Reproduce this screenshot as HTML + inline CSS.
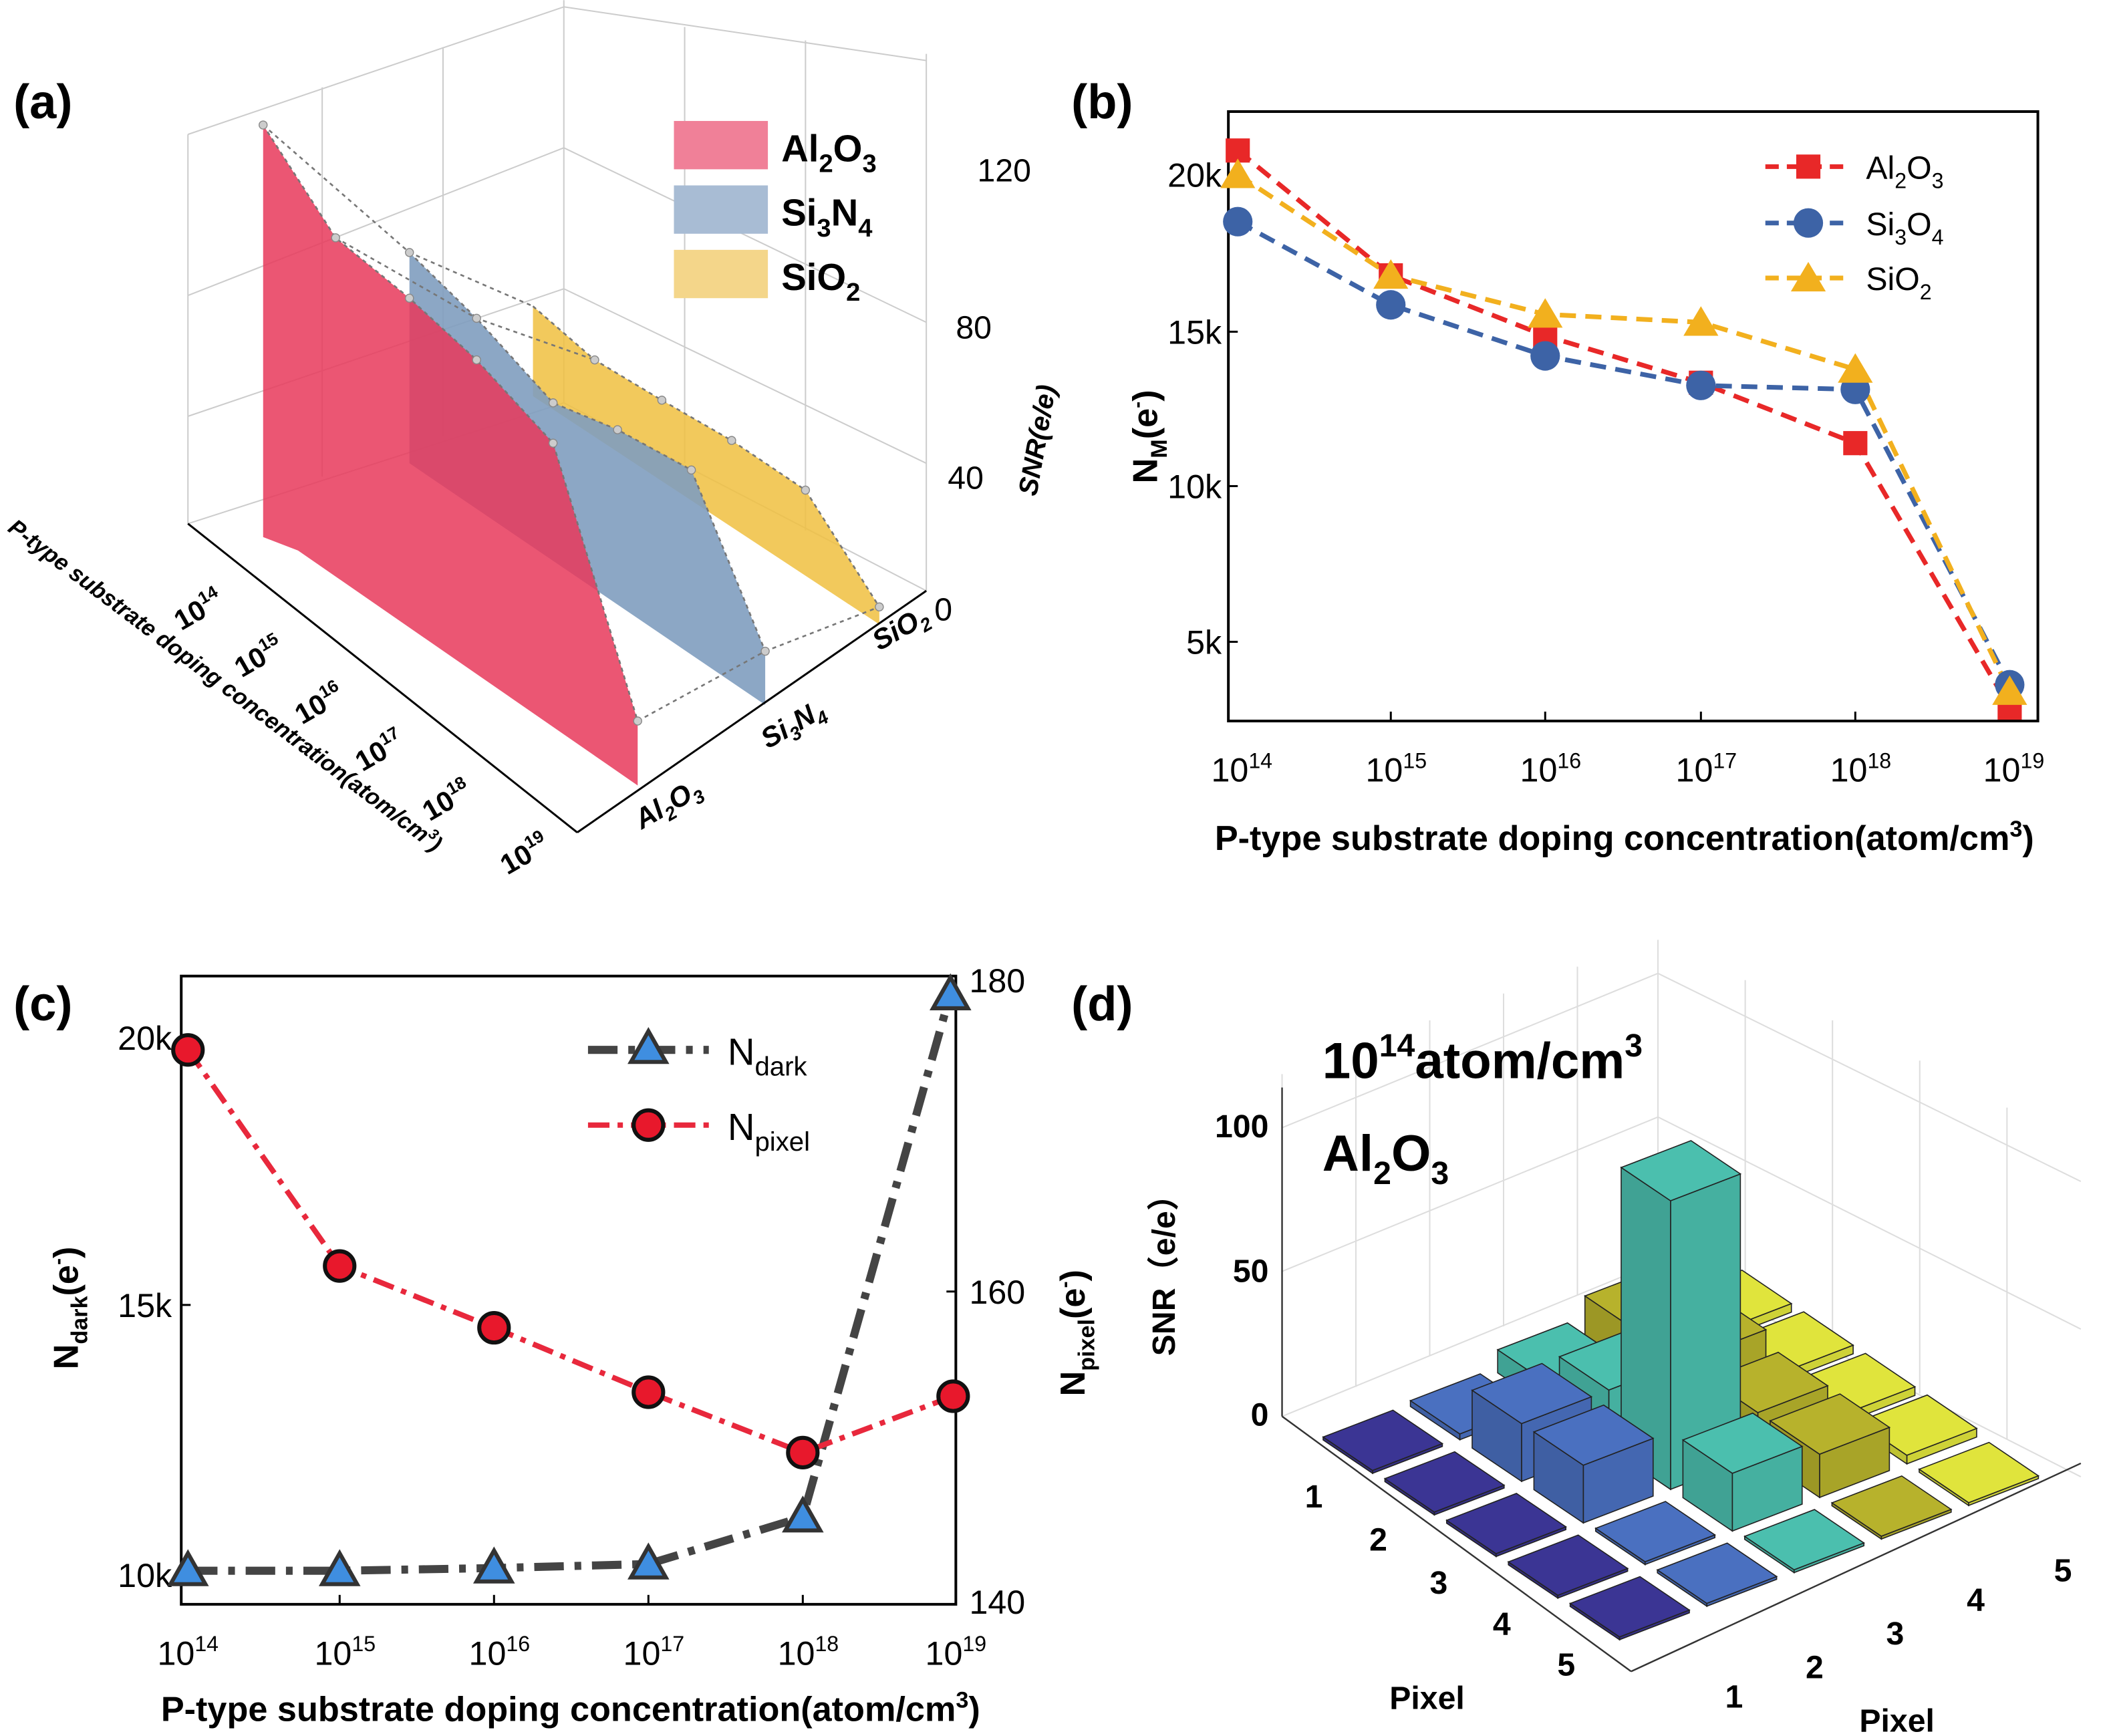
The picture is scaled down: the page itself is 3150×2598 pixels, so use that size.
<!DOCTYPE html>
<html><head><meta charset="utf-8">
<style>
html,body{margin:0;padding:0;background:#fff;}
svg{display:block;}
text{font-family:"Liberation Sans",sans-serif;}
.b{font-weight:bold;}
</style></head>
<body>
<svg id="s" width="3150" height="2598" viewBox="0 0 1568 1293" xmlns="http://www.w3.org/2000/svg">
<rect width="1568" height="1293" fill="#fff"/>

<!-- ===== Panel (a) ===== -->
<text x="10" y="88" class="b" font-size="36">(a)</text>
<g stroke="#ccc" stroke-width="1" fill="none">
  <line x1="140" y1="100" x2="140" y2="390"/>
  <line x1="420" y1="0" x2="420" y2="300"/>
  <line x1="690" y1="40" x2="690" y2="440"/>
  <line x1="140" y1="100" x2="420" y2="5"/>
  <line x1="420" y1="5" x2="690" y2="45"/>
  <line x1="140" y1="390" x2="420" y2="300"/>
  <line x1="420" y1="300" x2="690" y2="440"/>
  <line x1="140" y1="220" x2="420" y2="110"/><line x1="420" y1="110" x2="690" y2="240"/>
  <line x1="140" y1="310" x2="420" y2="215"/><line x1="420" y1="215" x2="690" y2="345"/>
  <line x1="240" y1="65" x2="240" y2="355"/><line x1="330" y1="35" x2="330" y2="325"/>
  <line x1="510" y1="20" x2="510" y2="345"/><line x1="600" y1="30" x2="600" y2="395"/>
</g>
<polygon points="397,228 443,268 493,298 545,328 600,365 655,452 655,465 397,295" fill="#f0c040" fill-opacity="0.85"/>
<polygon points="305,188 355,237 412,300 460,320 515,350 570,485 570,525 305,345" fill="#7f9dbf" fill-opacity="0.9"/>
<polygon points="196,93 250,177 305,222 355,268 412,330 475,537 475,585 222,410 196,400" fill="#e8385a" fill-opacity="0.85"/>
<g stroke="#777" stroke-width="1.3" stroke-dasharray="3,3" fill="none">
 <polyline points="196,93 250,177 305,222 355,268 412,330 475,537"/>
 <polyline points="305,188 355,237 412,300 460,320 515,350 570,485"/>
 <polyline points="397,228 443,268 493,298 545,328 600,365 655,452"/>
 <polyline points="196,93 305,188 397,228"/>
 <polyline points="250,177 355,237 443,268"/>
 <polyline points="475,537 570,485 655,452"/>
</g>
<g fill="#ccc" stroke="#888" stroke-width="0.7">
 <circle cx="196" cy="93" r="3"/><circle cx="250" cy="177" r="3"/><circle cx="305" cy="222" r="3"/><circle cx="355" cy="268" r="3"/><circle cx="412" cy="330" r="3"/><circle cx="475" cy="537" r="3"/>
 <circle cx="305" cy="188" r="3"/><circle cx="355" cy="237" r="3"/><circle cx="412" cy="300" r="3"/><circle cx="460" cy="320" r="3"/><circle cx="515" cy="350" r="3"/><circle cx="570" cy="485" r="3"/>
 <circle cx="443" cy="268" r="3"/><circle cx="493" cy="298" r="3"/><circle cx="545" cy="328" r="3"/><circle cx="600" cy="365" r="3"/><circle cx="655" cy="452" r="3"/>
</g>
<g stroke="#000" stroke-width="1.5" fill="none">
 <line x1="140" y1="390" x2="430" y2="620"/>
 <line x1="430" y1="620" x2="690" y2="440"/>
</g>
<rect x="502" y="90" width="70" height="36" fill="#f08098"/>
<rect x="502" y="138" width="70" height="36" fill="#a8bcd4"/>
<rect x="502" y="186" width="70" height="36" fill="#f4d68a"/>
<text x="582" y="120" class="b" font-size="28">Al<tspan font-size="19" dy="8">2</tspan><tspan dy="-8">O</tspan><tspan font-size="19" dy="8">3</tspan></text>
<text x="582" y="168" class="b" font-size="28">Si<tspan font-size="19" dy="8">3</tspan><tspan dy="-8">N</tspan><tspan font-size="19" dy="8">4</tspan></text>
<text x="582" y="216" class="b" font-size="28">SiO<tspan font-size="19" dy="8">2</tspan></text>
<g font-size="24">
 <text x="728" y="135">120</text><text x="712" y="252">80</text><text x="706" y="364">40</text><text x="696" y="462">0</text>
</g>
<text transform="translate(772,370) rotate(-80)" font-size="20" font-weight="bold" font-style="italic">SNR(e/e)</text>
<g font-size="21" font-weight="bold" font-style="italic">
 <text transform="translate(655,485) rotate(-30)">SiO<tspan font-size="14" dy="5">2</tspan></text>
 <text transform="translate(572,558) rotate(-30)">Si<tspan font-size="14" dy="5">3</tspan><tspan dy="-5">N</tspan><tspan font-size="14" dy="5">4</tspan></text>
 <text transform="translate(478,618) rotate(-30)">Al<tspan font-size="14" dy="5">2</tspan><tspan dy="-5">O</tspan><tspan font-size="14" dy="5">3</tspan></text>
</g>
<g font-size="21" font-weight="bold">
 <text transform="translate(135,470) rotate(-30)">10<tspan font-size="13" dy="-9">14</tspan></text>
 <text transform="translate(180,505) rotate(-30)">10<tspan font-size="13" dy="-9">15</tspan></text>
 <text transform="translate(225,540) rotate(-30)">10<tspan font-size="13" dy="-9">16</tspan></text>
 <text transform="translate(270,575) rotate(-30)">10<tspan font-size="13" dy="-9">17</tspan></text>
 <text transform="translate(320,612) rotate(-30)">10<tspan font-size="13" dy="-9">18</tspan></text>
 <text transform="translate(378,652) rotate(-30)">10<tspan font-size="13" dy="-9">19</tspan></text>
</g>
<text transform="translate(5,395) rotate(37)" font-size="17" font-weight="bold" font-style="italic">P-type substrate doping concentration(atom/cm<tspan font-size="11" dy="-7">3</tspan><tspan dy="7">)</tspan></text>

<!-- ===== Panel (b) ===== -->
<text x="798" y="88" class="b" font-size="36">(b)</text>
<rect x="915" y="83" width="603" height="454" fill="none" stroke="#000" stroke-width="2"/>
<g stroke="#000" stroke-width="1.5">
 <line x1="915" y1="130" x2="922" y2="130"/><line x1="915" y1="247" x2="922" y2="247"/><line x1="915" y1="362" x2="922" y2="362"/><line x1="915" y1="478" x2="922" y2="478"/>
 <line x1="1036" y1="537" x2="1036" y2="530"/><line x1="1151" y1="537" x2="1151" y2="530"/><line x1="1267" y1="537" x2="1267" y2="530"/><line x1="1382" y1="537" x2="1382" y2="530"/>
</g>
<g font-size="25" text-anchor="end">
 <text x="910" y="139">20k</text><text x="910" y="256">15k</text><text x="910" y="371">10k</text><text x="910" y="487">5k</text>
</g>
<g font-size="25" text-anchor="middle">
 <text x="925" y="582">10<tspan font-size="16" dy="-10">14</tspan></text>
 <text x="1040" y="582">10<tspan font-size="16" dy="-10">15</tspan></text>
 <text x="1155" y="582">10<tspan font-size="16" dy="-10">16</tspan></text>
 <text x="1271" y="582">10<tspan font-size="16" dy="-10">17</tspan></text>
 <text x="1386" y="582">10<tspan font-size="16" dy="-10">18</tspan></text>
 <text x="1500" y="582">10<tspan font-size="16" dy="-10">19</tspan></text>
</g>
<text x="1210" y="633" class="b" font-size="26" text-anchor="middle">P-type substrate doping concentration(atom/cm<tspan font-size="17" dy="-10">3</tspan><tspan dy="10">)</tspan></text>
<text transform="translate(862,360) rotate(-90)" class="b" font-size="26">N<tspan font-size="17" dy="7">M</tspan><tspan dy="-7">(e</tspan><tspan font-size="15" dy="-10">-</tspan><tspan dy="10">)</tspan></text>
<g fill="none" stroke-width="3.5" stroke-dasharray="12,7">
 <polyline stroke="#e82828" points="922,112 1036,205 1151,250 1267,285 1382,330 1497,527"/>
 <polyline stroke="#3d63a6" points="922,165 1036,227 1151,265 1267,287 1382,290 1497,510"/>
 <polyline stroke="#f2b01e" points="922,130 1036,205 1151,234 1267,240 1382,275 1497,515"/>
</g>
<g fill="#e82828">
 <rect x="913" y="103" width="18" height="18"/><rect x="1027" y="196" width="18" height="18"/><rect x="1142" y="241" width="18" height="18"/><rect x="1258" y="276" width="18" height="18"/><rect x="1373" y="321" width="18" height="18"/><rect x="1488" y="518" width="18" height="18"/>
</g>
<g fill="#3d63a6">
 <circle cx="922" cy="165" r="11"/><circle cx="1036" cy="227" r="11"/><circle cx="1151" cy="265" r="11"/><circle cx="1267" cy="287" r="11"/><circle cx="1382" cy="290" r="11"/><circle cx="1497" cy="510" r="11"/>
</g>
<g fill="#f2b01e">
 <polygon points="922,118 935,140 909,140"/><polygon points="1036,193 1049,215 1023,215"/><polygon points="1151,222 1164,244 1138,244"/><polygon points="1267,228 1280,250 1254,250"/><polygon points="1382,263 1395,285 1369,285"/><polygon points="1497,503 1510,525 1484,525"/>
</g>
<g stroke-width="3.5" stroke-dasharray="10,6">
 <line x1="1315" y1="124" x2="1378" y2="124" stroke="#e82828"/>
 <line x1="1315" y1="166" x2="1378" y2="166" stroke="#3d63a6"/>
 <line x1="1315" y1="207" x2="1378" y2="207" stroke="#f2b01e"/>
</g>
<rect x="1338" y="115" width="18" height="18" fill="#e82828"/>
<circle cx="1347" cy="166" r="11" fill="#3d63a6"/>
<polygon points="1347,195 1360,217 1334,217" fill="#f2b01e"/>
<g font-size="24">
 <text x="1390" y="133">Al<tspan font-size="16" dy="7">2</tspan><tspan dy="-7">O</tspan><tspan font-size="16" dy="7">3</tspan></text>
 <text x="1390" y="175">Si<tspan font-size="16" dy="7">3</tspan><tspan dy="-7">O</tspan><tspan font-size="16" dy="7">4</tspan></text>
 <text x="1390" y="216">SiO<tspan font-size="16" dy="7">2</tspan></text>
</g>

<!-- ===== Panel (c) ===== -->
<text x="10" y="760" class="b" font-size="36">(c)</text>
<rect x="135" y="727" width="577" height="468" fill="none" stroke="#000" stroke-width="2"/>
<g stroke="#000" stroke-width="1.5">
 <line x1="135" y1="773" x2="142" y2="773"/><line x1="135" y1="972" x2="142" y2="972"/>
 <line x1="712" y1="962" x2="705" y2="962"/>
 <line x1="253" y1="1195" x2="253" y2="1188"/><line x1="368" y1="1195" x2="368" y2="1188"/><line x1="483" y1="1195" x2="483" y2="1188"/><line x1="598" y1="1195" x2="598" y2="1188"/>
</g>
<g font-size="25" text-anchor="end">
 <text x="128" y="782">20k</text><text x="128" y="981">15k</text><text x="128" y="1182">10k</text>
</g>
<g font-size="25">
 <text x="722" y="739">180</text><text x="722" y="971">160</text><text x="722" y="1202">140</text>
</g>
<g font-size="25" text-anchor="middle">
 <text x="140" y="1240">10<tspan font-size="16" dy="-10">14</tspan></text>
 <text x="257" y="1240">10<tspan font-size="16" dy="-10">15</tspan></text>
 <text x="372" y="1240">10<tspan font-size="16" dy="-10">16</tspan></text>
 <text x="487" y="1240">10<tspan font-size="16" dy="-10">17</tspan></text>
 <text x="602" y="1240">10<tspan font-size="16" dy="-10">18</tspan></text>
 <text x="712" y="1240">10<tspan font-size="16" dy="-10">19</tspan></text>
</g>
<text x="425" y="1282" class="b" font-size="26" text-anchor="middle">P-type substrate doping concentration(atom/cm<tspan font-size="17" dy="-10">3</tspan><tspan dy="10">)</tspan></text>
<text transform="translate(58,1020) rotate(-90)" class="b" font-size="26">N<tspan font-size="17" dy="7">dark</tspan><tspan dy="-7">(e</tspan><tspan font-size="15" dy="-10">-</tspan><tspan dy="10">)</tspan></text>
<text transform="translate(808,1040) rotate(-90)" class="b" font-size="26">N<tspan font-size="17" dy="7">pixel</tspan><tspan dy="-7">(e</tspan><tspan font-size="15" dy="-10">-</tspan><tspan dy="10">)</tspan></text>
<polyline fill="none" stroke="#444" stroke-width="6" stroke-dasharray="22,8,5,8" points="140,1170 253,1170 368,1168 483,1165 598,1130 708,740"/>
<polyline fill="none" stroke="#e8283c" stroke-width="4" stroke-dasharray="16,6,4,6" points="140,782 253,943 368,989 483,1037 598,1082 710,1040"/>
<g fill="#3f8ee0" stroke="#333" stroke-width="3">
 <polygon points="140,1157 153,1180 127,1180"/><polygon points="253,1157 266,1180 240,1180"/><polygon points="368,1155 381,1178 355,1178"/><polygon points="483,1152 496,1175 470,1175"/><polygon points="598,1117 611,1140 585,1140"/><polygon points="708,728 721,751 695,751"/>
</g>
<g fill="#e8182c" stroke="#111" stroke-width="3">
 <circle cx="140" cy="782" r="11"/><circle cx="253" cy="943" r="11"/><circle cx="368" cy="989" r="11"/><circle cx="483" cy="1037" r="11"/><circle cx="598" cy="1082" r="11"/><circle cx="710" cy="1040" r="11"/>
</g>
<line x1="438" y1="782" x2="528" y2="782" stroke="#444" stroke-width="6" stroke-dasharray="22,8,5,8"/>
<polygon points="483,768 496,791 470,791" fill="#3f8ee0" stroke="#333" stroke-width="3"/>
<line x1="438" y1="838" x2="528" y2="838" stroke="#e8283c" stroke-width="4" stroke-dasharray="16,6,4,6"/>
<circle cx="483" cy="838" r="11" fill="#e8182c" stroke="#111" stroke-width="3"/>
<text x="542" y="793" font-size="28">N<tspan font-size="20" dy="8">dark</tspan></text>
<text x="542" y="849" font-size="28">N<tspan font-size="20" dy="8">pixel</tspan></text>

<!-- ===== Panel (d) ===== -->
<text x="798" y="760" class="b" font-size="36">(d)</text>
<g id="dgrid" stroke="#ddd" stroke-width="1" fill="none">
 <line x1="955" y1="1055" x2="955" y2="800"/>
 <line x1="955" y1="1055" x2="1235" y2="940"/>
 <line x1="955" y1="840" x2="1235" y2="725"/>
 <line x1="955" y1="947" x2="1235" y2="832"/>
 <line x1="1235" y1="940" x2="1235" y2="700"/>
 <line x1="1235" y1="940" x2="1550" y2="1100"/>
 <line x1="1235" y1="725" x2="1550" y2="880"/>
 <line x1="1235" y1="832" x2="1550" y2="990"/>
 <line x1="1010" y1="1033" x2="1010" y2="780"/><line x1="1065" y1="1010" x2="1065" y2="760"/><line x1="1120" y1="988" x2="1120" y2="740"/><line x1="1175" y1="965" x2="1175" y2="720"/>
 <line x1="1300" y1="972" x2="1300" y2="730"/><line x1="1365" y1="1005" x2="1365" y2="760"/><line x1="1430" y1="1038" x2="1430" y2="790"/><line x1="1495" y1="1072" x2="1495" y2="825"/>
</g>
<g stroke="#333" stroke-width="1.2" fill="none">
 <line x1="955" y1="1055" x2="955" y2="810"/>
 <line x1="955" y1="1055" x2="1215" y2="1245"/>
 <line x1="1215" y1="1245" x2="1550" y2="1090"/>
</g>
<g id="bars"></g>
<g class="b" font-size="24" font-weight="bold" text-anchor="end">
 <text x="945" y="847">100</text><text x="945" y="955">50</text><text x="945" y="1062">0</text>
</g>
<text transform="translate(875,1010) rotate(-90)" font-size="24" font-weight="bold">SNR<tspan font-family="Noto Sans CJK SC">（</tspan>e/e<tspan font-family="Noto Sans CJK SC">）</tspan></text>
<text x="985" y="803" font-size="38" font-weight="bold">10<tspan font-size="24" dy="-16">14</tspan><tspan dy="16">atom/cm</tspan><tspan font-size="24" dy="-16">3</tspan></text>
<text x="985" y="872" font-size="38" font-weight="bold">Al<tspan font-size="24" dy="10">2</tspan><tspan dy="-10">O</tspan><tspan font-size="24" dy="10">3</tspan></text>
<g font-size="24" font-weight="bold">
 <text x="972" y="1123">1</text><text x="1020" y="1155">2</text><text x="1065" y="1187">3</text><text x="1112" y="1218">4</text><text x="1160" y="1248">5</text>
 <text x="1285" y="1272">1</text><text x="1345" y="1250">2</text><text x="1405" y="1225">3</text><text x="1465" y="1200">4</text><text x="1530" y="1178">5</text>
 <text x="1035" y="1273">Pixel</text><text x="1385" y="1290">Pixel</text>
</g>
</svg>
<script>
(function(){
 var g=document.getElementById('bars');
 var C0=[919,1069],u=[46,31],v=[65,-25],k=2.15;
 var cols={1:'#3b3594',2:'#4a70c0',3:'#4bbfae',4:'#b7b22c',5:'#e0e43c'};
 var H={
  1:{1:1,2:2,3:8,4:15,5:3},
  2:{1:1,2:20,3:20,4:20,5:3},
  3:{1:1,2:20,3:100,4:15,5:3},
  4:{1:1,2:1,3:20,4:15,5:3},
  5:{1:1,2:1,3:1,4:1,5:1}};
 function P(a,b,h){return [C0[0]+a*u[0]+b*v[0], C0[1]+a*u[1]+b*v[1]-h*k];}
 function poly(pts,fill){var p=document.createElementNS('http://www.w3.org/2000/svg','polygon');
  p.setAttribute('points',pts.map(function(q){return q[0].toFixed(1)+','+q[1].toFixed(1)}).join(' '));
  p.setAttribute('fill',fill);p.setAttribute('stroke','#222');p.setAttribute('stroke-width','0.8');g.appendChild(p);}
 function shade(c,f){var r=parseInt(c.substr(1,2),16),gg=parseInt(c.substr(3,2),16),b=parseInt(c.substr(5,2),16);
  return 'rgb('+Math.round(r*f)+','+Math.round(gg*f)+','+Math.round(b*f)+')';}
 var list=[];
 for(var i=1;i<=5;i++)for(var j=1;j<=5;j++)list.push([i,j]);
 list.sort(function(a,b){return (a[0]-a[1])-(b[0]-b[1]) || (a[0]-b[0]);});
 var d=0.4;
 list.forEach(function(c){
  var i=c[0],j=c[1],h=H[i][j],col=cols[j];
  var a0=i-d,a1=i+d,b0=j-d,b1=j+d;
  poly([P(a1,b0,0),P(a1,b1,0),P(a1,b1,h),P(a1,b0,h)],shade(col,0.92));
  poly([P(a0,b0,0),P(a1,b0,0),P(a1,b0,h),P(a0,b0,h)],shade(col,0.85));
  poly([P(a0,b0,h),P(a1,b0,h),P(a1,b1,h),P(a0,b1,h)],col);
 });
})();
</script>
</body></html>
